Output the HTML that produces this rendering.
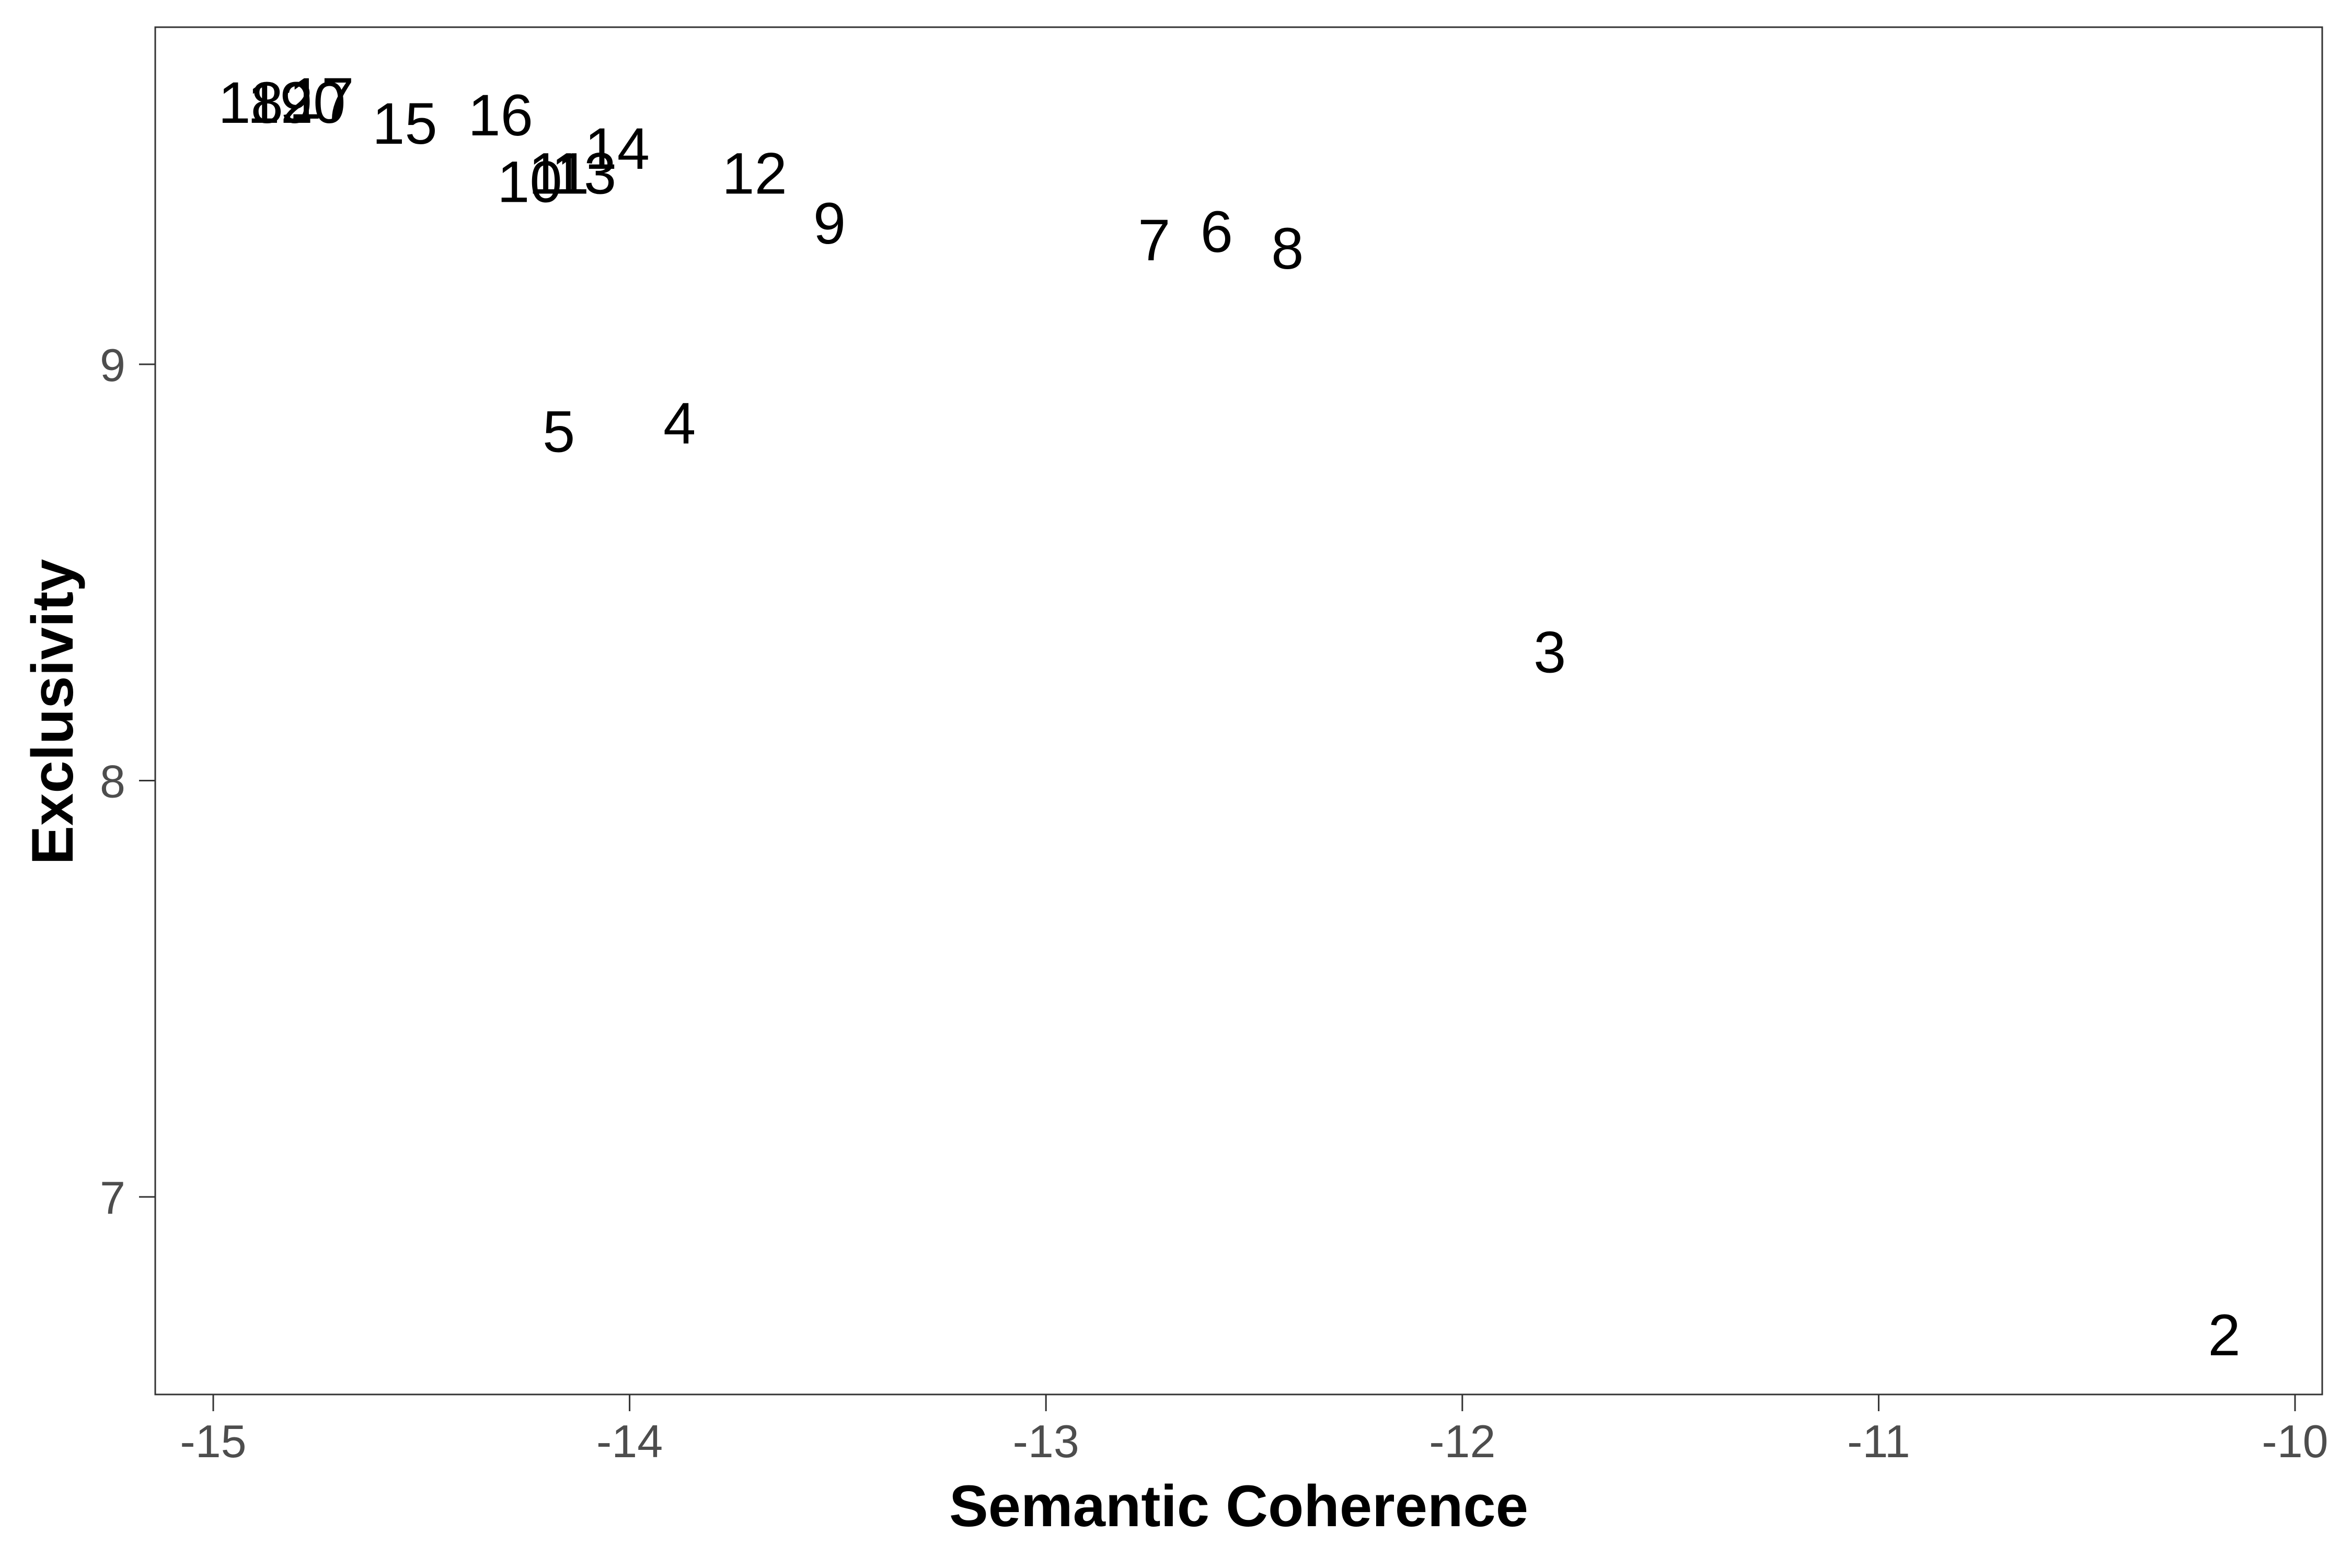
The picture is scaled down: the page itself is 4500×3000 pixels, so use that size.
<!DOCTYPE html>
<html><head><meta charset="utf-8"><style>
html,body{margin:0;padding:0;background:#fff;}
svg{display:block;font-family:"Liberation Sans",Arial,sans-serif;}
</style></head>
<body>
<svg id="chart" width="4500" height="3000" viewBox="0 0 4500 3000" xmlns="http://www.w3.org/2000/svg">
<rect x="0" y="0" width="4500" height="3000" fill="#fff"/>
<g id="marks"></g>
<rect x="297" y="52" width="4146" height="2616" fill="none" stroke="#333" stroke-width="3"/>
<g id="axes"></g>
<text x="2370" y="2920" text-anchor="middle" font-size="112" font-weight="bold" fill="#000">Semantic Coherence</text>
<text transform="translate(139,1362) rotate(-90)" text-anchor="middle" font-size="112" font-weight="bold" fill="#000">Exclusivity</text>
</svg>
<script>
const topicLabels = ["2","3","4","5","6","7","8","9","10","11","12","13","14","15","16","17","18","19","20"];
const coherence = [-10.17,-11.79,-13.88,-14.17,-12.59,-12.74,-12.42,-13.52,-14.24,-14.17,-13.70,-14.11,-14.03,-14.54,-14.31,-14.74,-14.91,-14.84,-14.76];
const exclusivity = [6.67,8.31,8.86,8.84,9.32,9.30,9.28,9.34,9.44,9.46,9.46,9.46,9.52,9.58,9.60,9.64,9.63,9.63,9.63];
const xTicks = [-15,-14,-13,-12,-11,-10];
const yTicks = [7,8,9];

const NS = "http://www.w3.org/2000/svg";
function xScale(v){ return 408 + (v + 15) * 796.6; }
function yScale(v){ return 697 + (9 - v) * 796.5; }

const marks = document.getElementById('marks');
for (let i = 0; i < topicLabels.length; i++) {
  const t = document.createElementNS(NS, 'text');
  t.setAttribute('x', xScale(coherence[i]));
  t.setAttribute('y', yScale(exclusivity[i]) + 40);
  t.setAttribute('text-anchor', 'middle');
  t.setAttribute('font-size', '112');
  t.setAttribute('fill', '#000');
  t.textContent = topicLabels[i];
  
  
  marks.appendChild(t);
}

const axes = document.getElementById('axes');
for (const v of xTicks) {
  const x = xScale(v);
  const l = document.createElementNS(NS, 'line');
  l.setAttribute('x1', x); l.setAttribute('x2', x);
  l.setAttribute('y1', 2668); l.setAttribute('y2', 2700);
  l.setAttribute('stroke', '#333'); l.setAttribute('stroke-width', '3');
  
  
  axes.appendChild(l);
  const t = document.createElementNS(NS, 'text');
  t.setAttribute('x', x); t.setAttribute('y', 2788);
  t.setAttribute('text-anchor', 'middle');
  t.setAttribute('font-size', '88'); t.setAttribute('fill', '#4D4D4D');
  t.textContent = String(v);
  
  
  axes.appendChild(t);
}
for (const v of yTicks) {
  const y = yScale(v);
  const l = document.createElementNS(NS, 'line');
  l.setAttribute('x1', 266); l.setAttribute('x2', 297);
  l.setAttribute('y1', y); l.setAttribute('y2', y);
  l.setAttribute('stroke', '#333'); l.setAttribute('stroke-width', '3');
  
  
  axes.appendChild(l);
  const t = document.createElementNS(NS, 'text');
  t.setAttribute('x', 240); t.setAttribute('y', y + 32);
  t.setAttribute('text-anchor', 'end');
  t.setAttribute('font-size', '88'); t.setAttribute('fill', '#4D4D4D');
  t.textContent = String(v);
  
  
  axes.appendChild(t);
}
</script>
</body></html>
